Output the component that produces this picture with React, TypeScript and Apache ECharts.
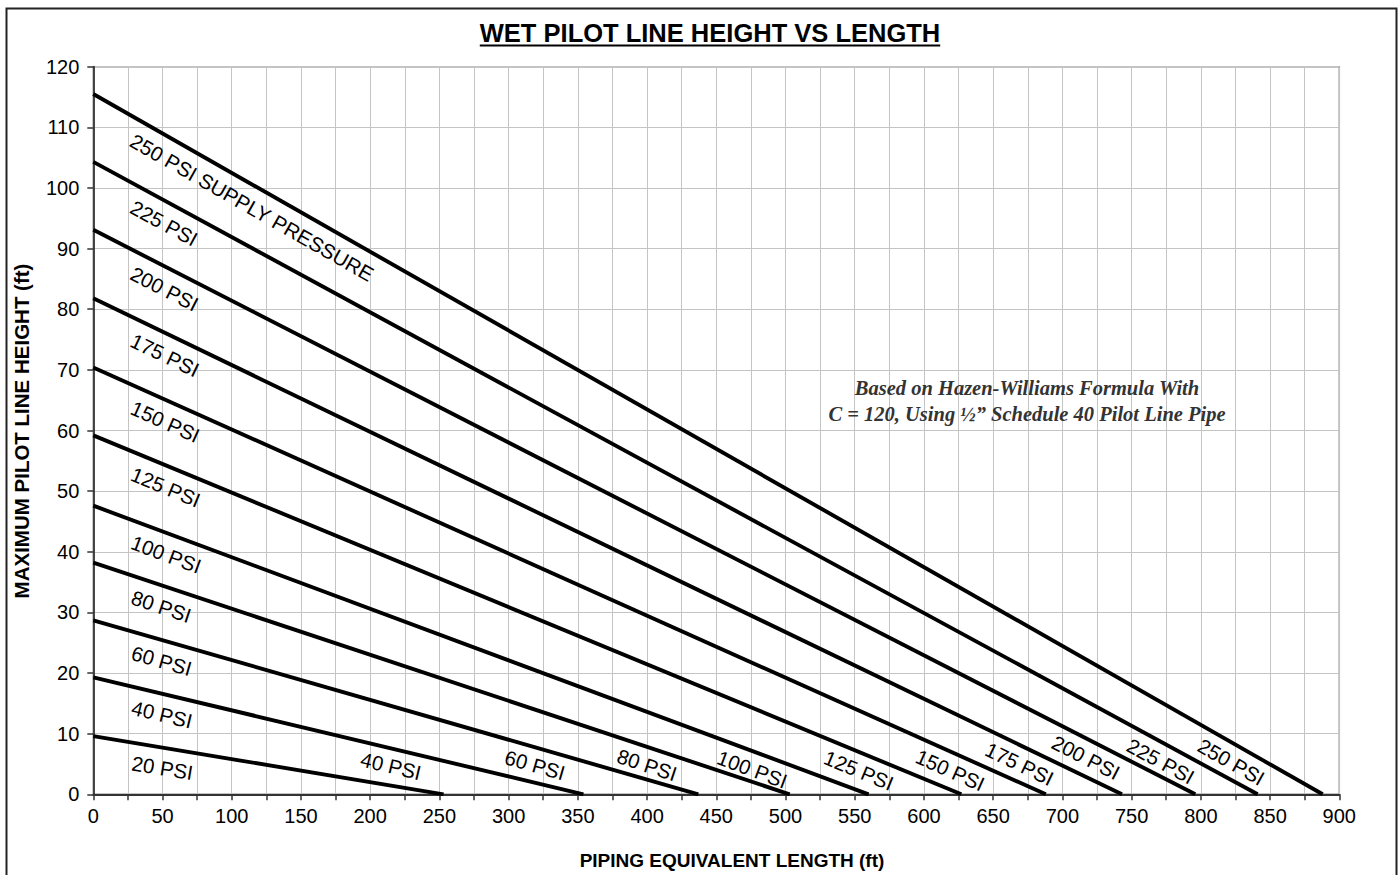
import React, { useEffect, useRef } from "react";
import * as echarts from "echarts";

// Supply pressures (psi) for each curve
const pressures = [20, 40, 60, 80, 100, 125, 150, 175, 200, 225, 250];
// Maximum pilot line height at zero length (ft)
const startHeights = [9.6, 19.3, 28.7, 38.2, 47.6, 59.2, 70.4, 81.8, 93.1, 104.3, 115.5];
// Equivalent length at which height reaches zero (ft)
const endLengths = [253, 354, 437, 503, 560, 627, 688, 743, 796, 841, 888];
// Labels near the start of each line
const leftLabels = ["20 PSI", "40 PSI", "60 PSI", "80 PSI", "100 PSI", "125 PSI", "150 PSI", "175 PSI", "200 PSI", "225 PSI", "250 PSI SUPPLY PRESSURE"];
// Labels near the end of each line (none for 20 psi)
const rightLabels = ["", "40 PSI", "60 PSI", "80 PSI", "100 PSI", "125 PSI", "150 PSI", "175 PSI", "200 PSI", "225 PSI", "250 PSI"];
// Where along the x axis (ft) the end labels are centred
const rightLabelAt = [0, 215, 319, 400, 476, 553, 619, 669, 717, 771, 822];
// Where along the x axis (ft) the start labels begin
const leftLabelAt = 28;

const xTicks = { min: 0, max: 900, interval: 50 };
const yTicks = { min: 0, max: 120, interval: 10 };

const TITLE = "WET PILOT LINE HEIGHT VS LENGTH";
const XNAME = "PIPING EQUIVALENT LENGTH (ft)";
const YNAME = "MAXIMUM PILOT LINE HEIGHT (ft)";
const NOTE1 = "Based on Hazen-Williams Formula With";
const NOTE2 = "C = 120, Using \u00BD\u201D Schedule 40 Pilot Line Pipe";

const SANS = 'Arial, "Liberation Sans", sans-serif';
const SERIF = '"Times New Roman", "Liberation Serif", serif';

function measure(text: string, font: string): number {
  const c = document.createElement("canvas").getContext("2d");
  if (!c) return text.length * 10;
  c.font = font;
  return c.measureText(text).width;
}

export default function App() {
  const ref = useRef<HTMLDivElement>(null);
  useEffect(() => {
    if (!ref.current) return;
    const chart = echarts.init(ref.current, null, { renderer: "svg" });
    const series = pressures.map((p, i) => ({
      type: "line" as const,
      name: p + " PSI",
      data: [
        [0, startHeights[i]],
        [endLengths[i], 0],
      ],
      symbol: "none",
      silent: true,
      lineStyle: { color: "#000", width: 3.9 },
      z: 5,
    }));
    const axisLabel = { color: "#000", fontSize: 20, fontFamily: SANS };
    chart.setOption({
      animation: false,
      backgroundColor: "#fff",
      grid: {
        left: 93.3,
        top: 66.7,
        right: 1399 - 1339.3,
        bottom: 875 - 794.3,
        show: true,
        borderColor: "#888",
        borderWidth: 1.5,
        backgroundColor: "transparent",
      },
      xAxis: {
        type: "value",
        ...xTicks,
        axisLine: { show: true, lineStyle: { color: "#333", width: 1.8 } },
        axisTick: { show: true, length: 6, lineStyle: { color: "#333", width: 1.5 } },
        minorTick: { show: true, splitNumber: 2, length: 6, lineStyle: { color: "#333", width: 1.5 } },
        splitLine: { show: true, lineStyle: { color: "#c4c4c4", width: 1 } },
        minorSplitLine: { show: true, lineStyle: { color: "#c4c4c4", width: 1 } },
        axisLabel: { ...axisLabel, margin: 12 },
      },
      yAxis: {
        type: "value",
        ...yTicks,
        axisLine: { show: true, lineStyle: { color: "#333", width: 1.8 } },
        axisTick: { show: true, length: 6, lineStyle: { color: "#333", width: 1.5 } },
        splitLine: { show: true, lineStyle: { color: "#c4c4c4", width: 1 } },
        axisLabel: { ...axisLabel, margin: 14 },
      },
      series,
    });

    const graphics: any[] = [];
    const labelFont = { fontSize: 20.5, fontFamily: SANS, fill: "#000" };
    const anchorX = (chart.convertToPixel({ gridIndex: 0 }, [leftLabelAt, 0]) as number[])[0];
    pressures.forEach((p, i) => {
      const p0 = chart.convertToPixel({ gridIndex: 0 }, [0, startHeights[i]]) as number[];
      const p1 = chart.convertToPixel({ gridIndex: 0 }, [endLengths[i], 0]) as number[];
      const dx = p1[0] - p0[0];
      const dy = p1[1] - p0[1];
      const th = Math.atan2(dy, dx);
      const sn = Math.sin(th);
      const cs = Math.cos(th);
      // left label: text begins at the same x for every line
      const dl = 20;
      const lineXl = anchorX + dl * sn;
      const tl = (lineXl - p0[0]) / dx;
      graphics.push({
        type: "text",
        x: anchorX,
        y: p0[1] + tl * dy + dl * cs,
        rotation: -th,
        silent: true,
        z: 10,
        style: { text: leftLabels[i], ...labelFont, align: "left", verticalAlign: "middle" },
      });
      if (rightLabels[i]) {
        const dr = 17;
        const cxPix = (chart.convertToPixel({ gridIndex: 0 }, [rightLabelAt[i], 0]) as number[])[0];
        const lineX = cxPix + dr * sn;
        const tt = (lineX - p0[0]) / dx;
        graphics.push({
          type: "text",
          x: cxPix,
          y: p0[1] + tt * dy + dr * cs,
          rotation: -th,
          silent: true,
          z: 10,
          style: { text: rightLabels[i], ...labelFont, align: "center", verticalAlign: "middle" },
        });
      }
    });

    // title with underline
    const titleFont = "bold 25.5px " + SANS;
    const tw = measure(TITLE, titleFont);
    const tx = 710;
    graphics.push({
      type: "text",
      x: tx,
      y: 33,
      silent: true,
      style: { text: TITLE, fontSize: 25.5, fontWeight: "bold", fontFamily: SANS, fill: "#000", align: "center", verticalAlign: "middle" },
    });
    graphics.push({
      type: "line",
      silent: true,
      shape: { x1: tx - tw / 2, y1: 45.5, x2: tx + tw / 2, y2: 45.5 },
      style: { stroke: "#000", lineWidth: 1.8 },
    });

    // axis names
    graphics.push({
      type: "text",
      x: 732,
      y: 860,
      silent: true,
      style: { text: XNAME, fontSize: 19, fontWeight: "bold", fontFamily: SANS, fill: "#000", align: "center", verticalAlign: "middle" },
    });
    graphics.push({
      type: "text",
      x: 21,
      y: 431,
      rotation: Math.PI / 2,
      silent: true,
      style: { text: YNAME, fontSize: 20.5, fontWeight: "bold", fontFamily: SANS, fill: "#000", align: "center", verticalAlign: "middle" },
    });

    // annotation
    [NOTE1, NOTE2].forEach((s, k) => {
      graphics.push({
        type: "text",
        x: 1027,
        y: 388 + k * 25.5,
        silent: true,
        z: 10,
        style: { text: s, fontSize: 20.5, fontWeight: "bold", fontStyle: "italic", fontFamily: SERIF, fill: "#333", align: "center", verticalAlign: "middle" },
      });
    });

    // outer frame
    graphics.push({
      type: "rect",
      silent: true,
      shape: { x: 6.5, y: 8.5, width: 1390, height: 900 },
      style: { fill: "none", stroke: "#222", lineWidth: 2 },
    });

    chart.setOption({ graphic: graphics });
    return () => chart.dispose();
  }, []);
  return (
    <div
      ref={ref}
      style={{ position: "absolute", left: 0, top: 0, width: 1399, height: 875, background: "#fff" }}
    />
  );
}
